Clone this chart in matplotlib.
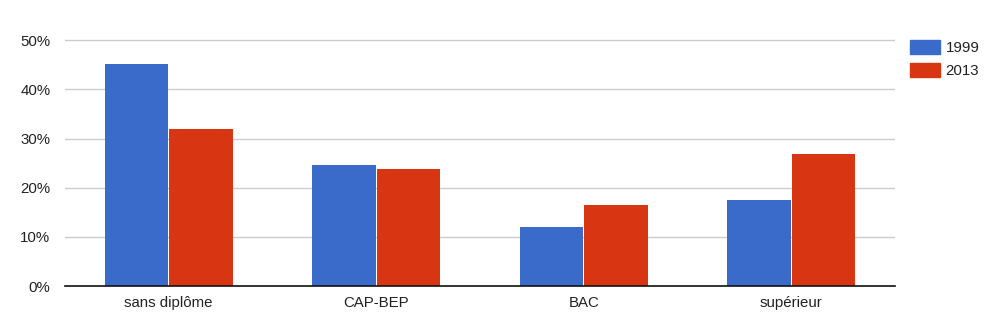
import numpy as np
import matplotlib.pyplot as plt
from matplotlib.patches import Patch
from matplotlib.ticker import PercentFormatter

plt.rcParams["font.family"] = ["Liberation Sans", "DejaVu Sans"]

categories = ["sans diplôme", "CAP-BEP", "BAC", "supérieur"]
share_1999 = [45.2, 24.6, 12.0, 17.5]
share_2013 = [32.0, 23.8, 16.5, 26.9]
series_names = ["1999", "2013"]
colors = ["#3a6bcb", "#d83512"]

W, H = 993, 327
fig = plt.figure(figsize=(W / 100, H / 100), dpi=100)

# plot area in pixels: left 65, right 895, baseline 286, 50% line at 40.3
left, right, base, top50 = 65, 895, 286, 40.3
ymax = 51.0
top_px = base - (base - top50) * ymax / 50
ax = fig.add_axes([left / W, (H - base) / H, (right - left) / W, (base - top_px) / H])

x = np.arange(len(categories))
width = 0.306
ax.bar(x - width / 2 - 0.002, share_1999, width, color=colors[0], zorder=3)
ax.bar(x + width / 2 + 0.002, share_2013, width, color=colors[1], zorder=3)

ax.set_xlim(-0.5, len(categories) - 0.5)
ax.set_ylim(0, ymax)
ax.set_yticks([0, 10, 20, 30, 40, 50])
ax.yaxis.set_major_formatter(PercentFormatter(decimals=0))
ax.set_xticks(x)
ax.set_xticklabels(categories)

ax.yaxis.grid(True, color="#cccccc", linewidth=1)
ax.set_axisbelow(True)
for side in ["top", "right", "left"]:
    ax.spines[side].set_visible(False)
ax.spines["bottom"].set_color("#111111")
ax.spines["bottom"].set_linewidth(1.2)
ax.spines["bottom"].set_zorder(4)

ax.tick_params(axis="y", length=0, pad=10.5, labelsize=10.8, labelcolor="#222222")
ax.tick_params(axis="x", length=0, pad=7, labelsize=10.8, labelcolor="#222222")

handles = [Patch(color=c, label=n) for c, n in zip(colors, series_names)]
fig.legend(
    handles=handles,
    loc="upper left",
    bbox_to_anchor=(896 / W, 1 - 26 / H),
    frameon=False,
    fontsize=10.8,
    handlelength=2.0,
    handleheight=1.1,
    handletextpad=0.4,
    labelspacing=0.55,
    labelcolor="#222222",
)

fig.savefig("out.png", dpi=100)
